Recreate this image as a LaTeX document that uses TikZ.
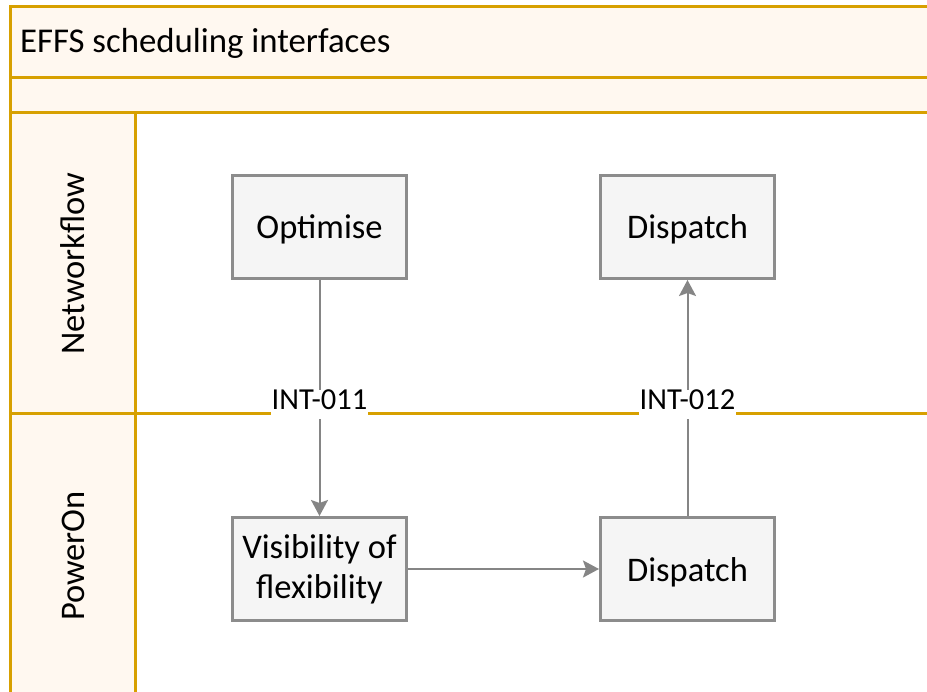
\documentclass[tikz,border=0pt]{standalone}
\usepackage{fontspec}
\setmainfont{Carlito}
\usetikzlibrary{arrows.meta}
\definecolor{lanestroke}{HTML}{D7A000}
\definecolor{lanefill}{HTML}{FFF8F0}
\definecolor{boxstroke}{HTML}{8C8C8C}
\definecolor{boxfill}{HTML}{F5F5F5}
\definecolor{arrowgray}{HTML}{858585}
\begin{document}
\begin{tikzpicture}[x=1pt,y=-1pt,
  lanetxt/.style={font=\fontsize{34.5}{40}\selectfont, rotate=90, inner sep=0pt},
  titletxt/.style={font=\fontsize{34.8}{40}\selectfont, inner sep=0pt, anchor=base west},
  box/.style={draw=boxstroke, fill=boxfill, line width=3pt, minimum width=174pt, minimum height=103pt, inner sep=0pt, align=center, font=\fontsize{34.5}{40}\selectfont},
  oneline/.style={text height=24pt, text depth=0pt},
  conn/.style={draw=arrowgray, line width=2pt, -{Stealth[length=16pt,width=17pt,inset=3pt]}},
  intlabel/.style={fill=white, inner xsep=1pt, inner ysep=0pt, text height=20pt, text depth=9pt, font=\fontsize{30.5}{36}\selectfont, yshift=-6.5pt},
  laneline/.style={draw=lanestroke, line width=3pt}]
\useasboundingbox (0,0) rectangle (927,692);
\clip (0,0) rectangle (927,692);
% pool background
\fill[lanefill] (10,6.5) rectangle (950,112.5);
\fill[lanefill] (10,112.5) rectangle (135.5,720);
% pool lines
\draw[laneline] (950,6.5) -- (10,6.5) -- (10,720);
\draw[laneline] (10,77.5) -- (950,77.5);
\draw[laneline] (10,112.5) -- (950,112.5);
\draw[laneline] (10,414) -- (950,414);
\draw[laneline] (135.5,112.5) -- (135.5,720);
% texts
\node[titletxt] (title) at (20,53) {EFFS scheduling interfaces};
\node[lanetxt] (nf) at (73,263.5) {Networkflow};
\node[lanetxt] (po) at (73.5,556) {PowerOn};
% boxes
\node[box, oneline] (opt) at (319.5,227) {Optimise};
\node[box, oneline] (dsp1) at (687.5,227) {Dispatch};
\node[box] (vis) at (319.5,569) {Visibility of\\flexibility};
\node[box, oneline] (dsp2) at (687.5,569) {Dispatch};
% connectors
\draw[conn] (opt) -- node[intlabel] (l1) {INT-011} (vis);
\draw[conn] (vis) -- (dsp2);
\draw[conn] (dsp2) -- node[intlabel] (l2) {INT-012} (dsp1);
\end{tikzpicture}
\end{document}
